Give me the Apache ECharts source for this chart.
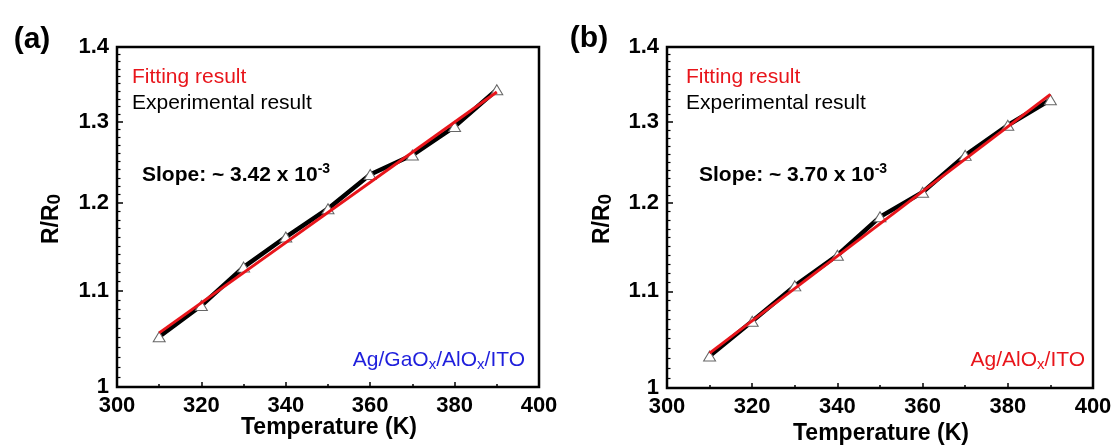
<!DOCTYPE html>
<html>
<head>
<meta charset="utf-8">
<script src="https://cdn.jsdelivr.net/npm/echarts@6/dist/echarts.min.js"></script>
<style>
  html, body { margin: 0; padding: 0; background: #fff; }
  #chart { width: 1116px; height: 446px; }
</style>
</head>
<body>
<div id="chart"></div>
<script>
// Temperature sweep (K)
const tempK = [310, 320, 330, 340, 350, 360, 370, 380, 390];
// Normalised resistance R/R0, Ag/GaOx/AlOx/ITO device
const ratioA = [1.051, 1.084, 1.126, 1.160, 1.193, 1.234, 1.258, 1.294, 1.342];
// Normalised resistance R/R0, Ag/AlOx/ITO device
const ratioB = [1.032, 1.068, 1.106, 1.140, 1.184, 1.213, 1.258, 1.296, 1.329];
// Linear fit end points
const fitTemp = [310, 390];
const fitA = [1.055, 1.339];
const fitB = [1.035, 1.336];
// Axis ticks
const yMajorTicks = [1, 1.1, 1.2, 1.3, 1.4];
const yMinorStep = 0.01;
const xTicks = [300, 320, 340, 360, 380, 400];

const FONT = '"Liberation Sans", Arial, sans-serif';
const RED = '#e8151b';
const BLUE = '#1f1fdc';

const pairs = (xs, ys) => xs.map((x, i) => [x, ys[i]]);
const lg = v => Math.log10(v);

// minor ticks between the labelled ticks
const yMinorTicks = [];
for (let i = 0; i < yMajorTicks.length - 1; i++) {
  const a = yMajorTicks[i], b = yMajorTicks[i + 1];
  const n = Math.round((b - a) / yMinorStep);
  for (let k = 1; k < n; k++) yMinorTicks.push(+(a + k * yMinorStep).toFixed(3));
}

const grids = [
  { left: 117, top: 47, width: 422, height: 340 },
  { left: 667, top: 47, width: 426, height: 341 }
];

function xAxisFor(gi) {
  return {
    type: 'value', gridIndex: gi,
    min: xTicks[0], max: xTicks[xTicks.length - 1], interval: 20,
    axisLine: { show: false },
    axisTick: { show: true, inside: true, length: 5, lineStyle: { color: '#000', width: 1.5 } },
    minorTick: { show: true, splitNumber: 2, length: 3, lineStyle: { color: '#000', width: 1.5 } },
    splitLine: { show: false },
    axisLabel: { color: '#000', fontFamily: FONT, fontWeight: 'bold', fontSize: 22, margin: 8 }
  };
}

function yAxesFor(gi) {
  const top = lg(yMajorTicks[yMajorTicks.length - 1]);
  return [
    // data axis: logarithmic R/R0
    {
      type: 'log', gridIndex: gi, logBase: 10,
      min: yMajorTicks[0], max: yMajorTicks[yMajorTicks.length - 1],
      show: false, splitLine: { show: false }
    },
    // labelled ticks, placed in log space
    {
      type: 'value', gridIndex: gi, position: 'left', min: 0, max: top,
      axisLine: { show: false }, splitLine: { show: false },
      axisTick: { show: true, inside: true, length: 6, customValues: yMajorTicks.map(lg),
                  lineStyle: { color: '#000', width: 1.5 } },
      axisLabel: {
        customValues: yMajorTicks.map(lg), margin: 8,
        color: '#000', fontFamily: FONT, fontWeight: 'bold', fontSize: 22,
        formatter: v => String(+Math.pow(10, v).toFixed(2))
      }
    },
    // unlabelled minor ticks
    {
      type: 'value', gridIndex: gi, position: 'left', min: 0, max: top,
      axisLine: { show: false }, splitLine: { show: false },
      axisTick: { show: true, inside: true, length: 3.5, customValues: yMinorTicks.map(lg),
                  lineStyle: { color: '#000', width: 1.2 } },
      axisLabel: { show: false }
    }
  ];
}

function seriesFor(gi, ratios, fit) {
  return [
    {
      name: 'Experimental result', type: 'line',
      xAxisIndex: gi, yAxisIndex: gi * 3,
      data: pairs(tempK, ratios),
      symbol: 'triangle', symbolSize: [12, 10],
      itemStyle: { color: '#fff', borderColor: '#666', borderWidth: 1 },
      lineStyle: { color: '#000', width: 4.5 },
      z: 3
    },
    {
      name: 'Fitting result', type: 'line',
      xAxisIndex: gi, yAxisIndex: gi * 3,
      data: pairs(fitTemp, fit),
      showSymbol: false, symbol: 'none',
      lineStyle: { color: RED, width: 3 },
      z: 4
    }
  ];
}

function txt(x, y, text, opts) {
  return {
    type: 'text', x: x, y: y, rotation: opts.rotation || 0, z: 10,
    style: Object.assign({
      text: text, fill: '#000', fontFamily: FONT, fontSize: 21,
      align: 'left', verticalAlign: 'middle'
    }, opts.style || {})
  };
}

const subRich = color => ({
  sub: { fill: color, fontFamily: FONT, fontSize: 15, verticalAlign: 'bottom', lineHeight: 12 }
});

function panelTexts(p) {
  return [
    txt(p.tagX, p.tagY, p.tag, { style: { fontSize: 30, fontWeight: 'bold', align: 'center' } }),
    txt(p.legX, 77, 'Fitting result', { style: { fill: RED } }),
    txt(p.legX, 103, 'Experimental result', {}),
    txt(p.slopeX, 175, 'Slope: ~ ' + p.slope + ' x 10{sup|-3}', {
      style: {
        fontWeight: 'bold', fontSize: 21, lineHeight: 26,
        rich: { sup: { fill: '#000', fontFamily: FONT, fontWeight: 'bold', fontSize: 14,
                       verticalAlign: 'top', lineHeight: 13 } }
      }
    }),
    txt(p.sampleX, 360, p.sample, {
      style: { fill: p.sampleColor, align: 'right', lineHeight: 25, rich: subRich(p.sampleColor) }
    }),
    txt(p.yNameX, 219, 'R/R{sub|0}', {
      rotation: Math.PI / 2,
      style: {
        fontWeight: 'bold', fontSize: 23, align: 'center', lineHeight: 25,
        rich: { sub: { fill: '#000', fontFamily: FONT, fontWeight: 'bold', fontSize: 19,
                       verticalAlign: 'bottom', lineHeight: 17 } }
      }
    }),
    txt(p.xNameX, p.xNameY, 'Temperature (K)', {
      style: { fontWeight: 'bold', fontSize: 23, align: 'center' }
    })
  ];
}

const chart = echarts.init(document.getElementById('chart'), null, { renderer: 'canvas' });
chart.setOption({
  animation: false,
  backgroundColor: '#fff',
  grid: grids.map(g => Object.assign({ show: true, borderColor: '#000', borderWidth: 2.5, backgroundColor: 'transparent' }, g)),
  xAxis: [xAxisFor(0), xAxisFor(1)],
  yAxis: yAxesFor(0).concat(yAxesFor(1)),
  series: seriesFor(0, ratioA, fitA).concat(seriesFor(1, ratioB, fitB)),
  graphic: panelTexts({
    tag: '(a)', tagX: 32, tagY: 40, legX: 132, slopeX: 142, slope: '3.42',
    sampleX: 525, sample: 'Ag/GaO{sub|x}/AlO{sub|x}/ITO', sampleColor: BLUE,
    yNameX: 52, xNameX: 329, xNameY: 428
  }).concat(panelTexts({
    tag: '(b)', tagX: 589, tagY: 39, legX: 686, slopeX: 699, slope: '3.70',
    sampleX: 1085, sample: 'Ag/AlO{sub|x}/ITO', sampleColor: RED,
    yNameX: 603, xNameX: 881, xNameY: 434
  }))
});
</script>
</body>
</html>
